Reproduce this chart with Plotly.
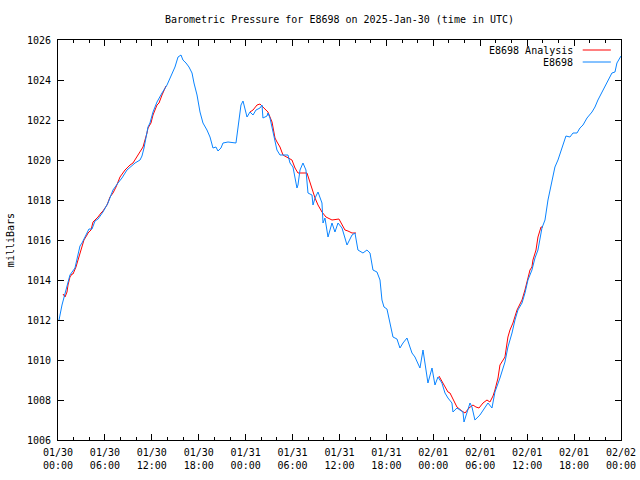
import pandas as pd
import plotly.graph_objects as go

# ---- data (hours since 2025-01-30 00:00 UTC, pressure in mb) ----
station_hours = [0.13, 0.51, 1.02, 1.53, 2.17, 2.81, 3.07, 3.71, 3.96, 4.35, 4.73, 5.12, 5.75, 6.39, 7.03,
                 7.67, 8.18, 8.82, 9.21, 9.85, 10.49, 10.74, 11.0, 11.25, 11.51, 11.76, 12.15, 12.66, 12.79,
                 13.3, 13.94, 14.58, 14.96, 15.35, 15.73, 15.98, 16.37, 16.75, 17.14, 17.39, 17.78, 18.16,
                 18.54, 19.05, 19.44, 19.82, 20.2, 20.46, 20.84, 21.1, 21.74, 22.76, 23.02, 23.4, 23.66,
                 23.91, 24.17, 24.55, 24.94, 25.32, 25.83, 26.09, 26.21, 26.73, 26.85, 27.11, 27.49, 28.0,
                 28.39, 29.41, 29.67, 30.05, 30.56, 30.69, 30.95, 31.33, 31.71, 31.97, 32.48, 32.61, 32.87,
                 33.25, 33.76, 33.89, 34.14, 34.53, 35.04, 35.42, 35.81, 36.32, 36.96, 37.6, 37.98, 38.36,
                 39.0, 39.51, 39.9, 40.28, 40.79, 41.18, 41.43, 41.69, 42.07, 42.46, 42.84, 43.35, 43.73,
                 44.12, 44.63, 45.01, 45.27, 45.65, 46.04, 46.29, 46.68, 47.06, 47.31, 47.83, 48.21, 48.59,
                 49.1, 49.49, 49.87, 50.38, 50.51, 51.02, 51.41, 51.79, 51.92, 52.3, 52.69, 52.94, 53.32,
                 53.96, 54.6, 54.99, 55.5, 55.88, 56.52, 57.16, 57.54, 58.06, 58.44, 58.82, 59.34, 59.72,
                 60.1, 60.61, 61.0, 61.38, 61.89, 62.28, 62.66, 63.17, 63.55, 63.94, 64.45, 64.96, 65.47,
                 65.86, 66.37, 66.75, 67.14, 67.65, 68.29, 68.67, 69.05, 69.57, 70.2, 70.84, 71.23, 71.48,
                 72.0]
station_mb = [1012.0, 1012.75, 1013.5, 1014.25, 1014.6, 1015.7, 1015.85, 1016.35, 1016.55, 1016.55, 1016.95,
              1017.05, 1017.4, 1017.85, 1018.5, 1018.85, 1019.1, 1019.5, 1019.65, 1019.85, 1020.0, 1020.2,
              1020.6, 1021.15, 1021.65, 1021.85, 1022.4, 1022.9, 1023.0, 1023.35, 1023.75, 1024.35, 1024.65,
              1025.15, 1025.25, 1025.0, 1024.85, 1024.65, 1024.35, 1023.85, 1023.25, 1022.4, 1021.85,
              1021.5, 1021.15, 1020.6, 1020.65, 1020.45, 1020.6, 1020.85, 1020.9, 1020.85, 1021.75, 1022.75,
              1022.95, 1022.5, 1022.15, 1022.4, 1022.25, 1022.5, 1022.6, 1022.75, 1022.1, 1022.2, 1022.35,
              1022.1, 1021.35, 1020.5, 1020.25, 1020.25, 1019.85, 1019.65, 1018.6, 1018.75, 1019.5, 1019.85,
              1019.5, 1018.35, 1018.25, 1017.75, 1018.1, 1018.4, 1017.85, 1016.85, 1017.1, 1016.15, 1016.85,
              1016.4, 1016.85, 1016.6, 1015.75, 1016.25, 1016.35, 1015.5, 1015.35, 1015.5, 1015.35, 1014.5,
              1014.4, 1014.0, 1013.0, 1012.65, 1012.55, 1011.9, 1011.15, 1011.05, 1010.6, 1010.85, 1011.1,
              1010.65, 1010.35, 1010.15, 1009.85, 1009.6, 1010.5, 1009.5, 1008.85, 1009.6, 1008.75, 1009.15,
              1008.85, 1008.35, 1008.1, 1007.85, 1007.4, 1007.6, 1007.5, 1007.4, 1006.9, 1007.35, 1007.85,
              1007.65, 1007.0, 1007.25, 1007.6, 1007.85, 1007.6, 1008.4, 1009.1, 1009.9, 1010.65, 1011.35,
              1012.0, 1012.5, 1012.85, 1013.35, 1014.0, 1014.5, 1015.1, 1015.5, 1016.6, 1017.0, 1018.0,
              1018.85, 1019.65, 1020.0, 1020.65, 1021.2, 1021.15, 1021.35, 1021.35, 1021.6, 1021.75, 1022.1,
              1022.4, 1022.65, 1023.0, 1023.4, 1023.9, 1024.35, 1024.4, 1024.85, 1025.2]

analysis_hours = [0.64, 0.9, 1.15, 1.28, 1.53, 1.79, 1.92, 2.3, 2.56, 2.81, 3.07, 3.32, 3.71, 3.84, 4.22, 4.48,
                  4.73, 5.12, 5.5, 5.75, 6.27, 6.65, 7.03, 7.42, 7.93, 8.57, 9.21, 9.59, 10.23, 10.61, 10.87,
                  11.38, 11.51, 11.89, 12.15, 12.66, 12.92, 13.3, 13.56, 13.81,
                  None,
                  24.55, 24.94, 25.45, 25.83, 26.21, 26.6, 26.85, 27.37, 27.75, 28.01, 28.39, 28.77, 29.28,
                  29.92, 30.31, 30.69, 31.84, 32.23, 32.61, 32.87, 33.25, 33.76, 34.27, 35.04, 35.93, 36.32,
                  36.7, 37.08, 37.6, 38.11,
                  None,
                  48.72, 49.1, 49.49, 49.87, 50.13, 50.64, 51.02, 51.66, 52.05, 52.56, 53.07, 53.45, 53.84,
                  54.35, 54.86, 55.24, 55.63, 55.88, 56.27, 56.52, 56.91, 57.16, 57.54, 57.8, 58.18, 58.7,
                  59.08, 59.34, 59.72, 59.97, 60.36, 60.61, 60.74, 61.13, 61.38, 61.77, 62.02]
analysis_mb = [1013.3, 1013.15, 1013.4, 1013.75, 1014.15, 1014.3, 1014.3, 1014.65, 1015.0, 1015.35, 1015.6,
               1016.0, 1016.25, 1016.35, 1016.5, 1016.9, 1017.0, 1017.15, 1017.35, 1017.45, 1017.75, 1018.15,
               1018.35, 1018.65, 1019.15, 1019.5, 1019.75, 1019.85, 1020.25, 1020.5, 1020.65, 1021.35, 1021.6,
               1021.85, 1022.25, 1022.75, 1022.85, 1023.25, 1023.5, 1023.7,
               None,
               1022.4, 1022.5, 1022.75, 1022.8, 1022.65, 1022.5, 1022.4, 1021.9, 1021.1, 1020.9, 1020.65,
               1020.25, 1020.15, 1020.0, 1019.6, 1019.35, 1019.35, 1018.9, 1018.35, 1018.1, 1017.75, 1017.4,
               1017.15, 1017.0, 1017.05, 1016.8, 1016.5, 1016.45, 1016.35, 1016.35,
               None,
               1009.2, 1008.95, 1008.65, 1008.4, 1008.35, 1007.95, 1007.65, 1007.45, 1007.35, 1007.6, 1007.75,
               1007.65, 1007.6, 1007.85, 1008.0, 1007.9, 1008.2, 1008.5, 1009.1, 1009.75, 1010.0, 1010.15,
               1011.15, 1011.5, 1011.85, 1012.5, 1012.8, 1013.0, 1013.5, 1013.9, 1014.5, 1014.65, 1015.0,
               1015.5, 1016.15, 1016.65, 1016.65]

tick_hours = [0, 6, 12, 18, 24, 30, 36, 42, 48, 54, 60, 66, 72]
tick_labels = ["01/30<br>00:00", "01/30<br>06:00", "01/30<br>12:00", "01/30<br>18:00",
               "01/31<br>00:00", "01/31<br>06:00", "01/31<br>12:00", "01/31<br>18:00",
               "02/01<br>00:00", "02/01<br>06:00", "02/01<br>12:00", "02/01<br>18:00",
               "02/02<br>00:00"]
y_ticks = [1006, 1008, 1010, 1012, 1014, 1016, 1018, 1020, 1022, 1024, 1026]

base = pd.Timestamp("2025-01-30 00:00")


def to_time(hs):
    return [None if h is None else base + pd.Timedelta(hours=h) for h in hs]


FONT = "DejaVu Sans Mono"
RED = "#ff0000"
BLUE = "#0a84ff"

fig = go.Figure()
fig.add_trace(go.Scatter(x=to_time(analysis_hours), y=analysis_mb, mode="lines",
                         name="E8698 Analysis", line=dict(color=RED, width=1),
                         connectgaps=False, showlegend=False))
fig.add_trace(go.Scatter(x=to_time(station_hours), y=station_mb, mode="lines",
                         name="E8698", line=dict(color=BLUE, width=1), showlegend=False))

# legend imitation (text right-aligned, sample line to the right)
legend_items = [("E8698 Analysis", RED, 0.975), ("E8698", BLUE, 0.945)]
for label, color, yy in legend_items:
    fig.add_annotation(x=0.918, y=yy, xref="paper", yref="paper", text=label, showarrow=False,
                       xanchor="right", yanchor="middle", font=dict(family=FONT, size=10, color="black"))
    fig.add_shape(type="line", xref="paper", yref="paper", x0=0.932, x1=0.982, y0=yy, y1=yy,
                  line=dict(color=color, width=1))

# y-axis title
fig.add_annotation(x=-0.085, y=0.5, xref="paper", yref="paper", text="milliBars", showarrow=False,
                   textangle=-90, xanchor="center", yanchor="middle",
                   font=dict(family=FONT, size=10, color="black"))

fig.update_layout(
    width=640, height=480,
    margin=dict(l=58, r=19, t=40, b=40, autoexpand=False),
    paper_bgcolor="white", plot_bgcolor="white",
    font=dict(family=FONT, size=10, color="black"),
    title=dict(text="Barometric Pressure for E8698 on 2025-Jan-30 (time in UTC)",
               x=0.5305, xanchor="center", y=0.96, yanchor="middle",
               font=dict(family=FONT, size=10, color="black")),
    showlegend=False,
    hovermode=False,
)
fig.update_xaxes(
    range=[base, base + pd.Timedelta(hours=72)],
    tickvals=to_time(tick_hours), ticktext=tick_labels,
    ticks="inside", ticklen=6, tickwidth=1, tickcolor="black",
    minor=dict(dtick=2 * 3600 * 1000, tick0=base, ticks="inside", ticklen=3, tickcolor="black"),
    showline=True, linecolor="black", linewidth=1, mirror="allticks",
    showgrid=False, zeroline=False, tickfont=dict(family=FONT, size=10),
    automargin=False, ticklabelstandoff=3,
)
fig.update_yaxes(
    range=[1006, 1026], tickvals=y_ticks,
    ticks="inside", ticklen=6, tickwidth=1, tickcolor="black",
    showline=True, linecolor="black", linewidth=1, mirror="allticks",
    showgrid=False, zeroline=False, tickfont=dict(family=FONT, size=10),
    automargin=False, ticklabelstandoff=4,
)

fig.write_html("out.html", config={"displayModeBar": False},
               post_script="document.body.style.margin='0px';")
